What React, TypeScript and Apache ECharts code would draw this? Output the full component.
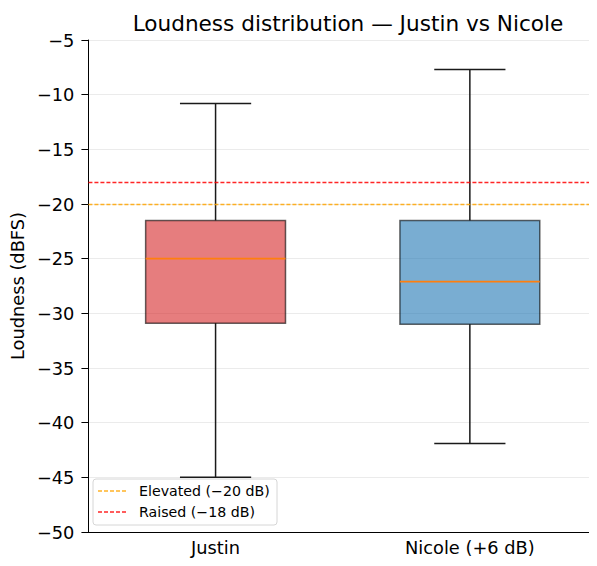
import React, { useEffect, useRef } from "react";
import * as echarts from "echarts";

const categories = ["Justin", "Nicole (+6 dB)"];
const whiskerLow = [-45.0, -41.9];
const q1 = [-30.9, -31.0];
const median = [-25.0, -27.1];
const q3 = [-21.5, -21.5];
const whiskerHigh = [-10.8, -7.7];
const boxColors = ["rgba(214,39,40,0.6)", "rgba(31,119,180,0.6)"];
const refNames = ["Elevated (\u221220 dB)", "Raised (\u221218 dB)"];
const refValues = [-20, -18];
const refColors = ["#FFA500", "#FF0000"];

const FONT = "DejaVu Sans";
const fmt = (v: number) => (v < 0 ? "\u2212" : "") + Math.abs(v);

export default function App() {
  const ref = useRef<HTMLDivElement>(null);
  useEffect(() => {
    if (!ref.current) return;
    const chart = echarts.init(ref.current, null, { renderer: "svg" });
    const data = categories.map((_, i) => [i, whiskerLow[i], q1[i], median[i], q3[i], whiskerHigh[i]]);
    const legendChildren: any[] = [
      {
        type: "rect",
        shape: { x: 93, y: 479, width: 184, height: 46, r: 3 },
        style: { fill: "rgba(255,255,255,0.8)", stroke: "#d6d6d6", lineWidth: 1 },
      },
    ];
    refNames.forEach((name, i) => {
      const y = 491 + i * 21;
      legendChildren.push({
        type: "line",
        shape: { x1: 98, y1: y, x2: 128, y2: y },
        style: { stroke: refColors[i], lineWidth: 1.4, lineDash: [4, 2], opacity: 0.85 },
      });
      legendChildren.push({
        type: "text",
        x: 139,
        y,
        style: { text: name, fontFamily: FONT, fontSize: 14.2, fill: "#000", verticalAlign: "middle", align: "left" },
      });
    });
    const option: any = {
      animation: false,
      backgroundColor: "#ffffff",
      title: {
        text: "Loudness distribution \u2014 Justin vs Nicole",
        left: 343,
        textAlign: "center",
        top: 7,
        textStyle: { fontFamily: FONT, fontSize: 21.6, fontWeight: "normal", color: "#000" },
      },
      grid: { left: 86, top: 40, width: 514, height: 492 },
      xAxis: {
        type: "category",
        data: categories,
        axisLine: { lineStyle: { color: "#000", width: 1 } },
        axisTick: { alignWithLabel: true, length: 7, lineStyle: { color: "#000" } },
        axisLabel: { fontFamily: FONT, fontSize: 17.8, color: "#000", margin: 6 },
        splitLine: { show: false },
      },
      yAxis: {
        type: "value",
        min: -50,
        max: -5,
        interval: 5,
        name: "Loudness (dBFS)",
        nameLocation: "middle",
        nameGap: 57,
        nameTextStyle: { fontFamily: FONT, fontSize: 17.8, color: "#000" },
        axisLine: { show: true, lineStyle: { color: "#000", width: 1 } },
        axisTick: { show: true, length: 7, lineStyle: { color: "#000" } },
        axisLabel: { fontFamily: FONT, fontSize: 17.8, color: "#000", margin: 14, formatter: fmt },
        splitLine: { show: true, lineStyle: { color: "#ebebeb", width: 1 } },
      },
      graphic: [{ type: "group", z: 100, children: legendChildren }],
      series: [
        {
          type: "custom",
          data,
          z: 3,
          renderItem: (params: any, api: any) => {
            const idx = params.dataIndex;
            const x = api.value(0);
            const band = api.size([1, 0])[0];
            const bw = band * 0.55;
            const cw = band * 0.28;
            const pLow = api.coord([x, api.value(1)]);
            const pQ1 = api.coord([x, api.value(2)]);
            const pMed = api.coord([x, api.value(3)]);
            const pQ3 = api.coord([x, api.value(4)]);
            const pHigh = api.coord([x, api.value(5)]);
            const cx = pLow[0];
            const stroke = { stroke: "#1a1a1a", lineWidth: 1.5 };
            return {
              type: "group",
              children: [
                { type: "line", shape: { x1: cx, y1: pQ1[1], x2: cx, y2: pLow[1] }, style: stroke },
                { type: "line", shape: { x1: cx, y1: pQ3[1], x2: cx, y2: pHigh[1] }, style: stroke },
                { type: "line", shape: { x1: cx - cw / 2, y1: pLow[1], x2: cx + cw / 2, y2: pLow[1] }, style: stroke },
                { type: "line", shape: { x1: cx - cw / 2, y1: pHigh[1], x2: cx + cw / 2, y2: pHigh[1] }, style: stroke },
                {
                  type: "rect",
                  shape: { x: cx - bw / 2, y: pQ3[1], width: bw, height: pQ1[1] - pQ3[1] },
                  style: { fill: boxColors[idx], stroke: "rgba(0,0,0,0.6)", lineWidth: 1.5 },
                },
                { type: "line", shape: { x1: cx - bw / 2, y1: pMed[1], x2: cx + bw / 2, y2: pMed[1] }, style: { stroke: "#ff7f0e", lineWidth: 1.8 } },
              ],
            };
          },
        },
        ...refNames.map((name, i) => ({
          name,
          type: "line",
          data: [],
          symbol: "none",
          markLine: {
            silent: true,
            symbol: "none",
            label: { show: false },
            lineStyle: { color: refColors[i], type: [4, 2], width: 1.4, opacity: 0.85 },
            data: [{ yAxis: refValues[i] }],
          },
        })),
      ],
    };
    chart.setOption(option);
    return () => chart.dispose();
  }, []);
  return <div ref={ref} style={{ width: 597, height: 566, margin: -8 }} />;
}
